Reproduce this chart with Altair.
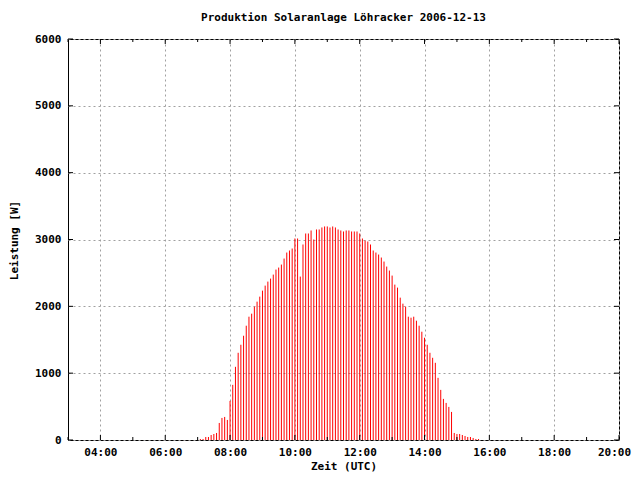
import altair as alt
import pandas as pd

# 5-minute samples from 07:05 to 15:40 (UTC)
power = [
    15, 15, 45, 45, 75, 90, 105, 255, 330, 345, 300, 585, 825, 1095, 1305,
    1425, 1560, 1710, 1845, 1890, 1995, 2070, 2145, 2235, 2310, 2370, 2415, 2475, 2550, 2580, 2625, 2715, 2805,
    2835, 2865, 3015, 3015, 2445, 2925, 3090, 3090, 3135, 3000, 3150, 3150, 3180, 3195, 3195, 3180, 3195,
    3180, 3150, 3135, 3120, 3135, 3135, 3120, 3120, 3120, 3090, 3015, 2985, 2970, 2925, 2835, 2805, 2775, 2730,
    2670, 2595, 2535, 2460, 2325, 2280, 2130, 2040, 1995, 1845, 1830, 1845, 1785, 1710, 1620, 1530, 1425, 1305,
    1230, 1155, 930, 750, 615, 555, 495, 420, 105, 90, 90, 75, 60, 45, 45, 30, 15, 15,
]
start_minute = 7 * 60 + 5
hours = [(start_minute + 5 * i) / 60 for i in range(len(power))]

x_major = [4, 6, 8, 10, 12, 14, 16, 18, 20]
x_minor = [3, 5, 7, 9, 11, 13, 15, 17, 19]
y_major = [0, 1000, 2000, 3000, 4000, 5000, 6000]
title_text = ["Produktion Solaranlage Löhracker 2006-12-13"]

W, H = 551, 401
FONT = "DejaVu Sans Mono"

df = pd.DataFrame({"t": hours, "p": power})
xs = alt.Scale(domain=[3, 20], nice=False, zero=False)
ys = alt.Scale(domain=[0, 6000], nice=False)

bars = alt.Chart(df).mark_rule(color="#ff0000", strokeWidth=1).encode(
    x=alt.X("t:Q", scale=xs, axis=alt.Axis(
        values=x_major,
        labelExpr="(datum.value < 10 ? '0' : '') + datum.value + ':00'",
        labelOffset={"condition": {"test": "datum.value == 20", "value": -5}, "value": 0},
        ticks=False, domain=False, grid=True, gridColor="#a0a0a0", gridDash=[2, 3],
        labelPadding=6, labelFlush=False, title="Zeit (UTC)", titleY=26, titleBaseline="middle")),
    y=alt.Y("p:Q", scale=ys, axis=alt.Axis(
        values=y_major, format="d", ticks=False, domain=False, grid=True,
        gridColor="#a0a0a0", gridDash=[2, 3],
        labelPadding=7, title="Leistung [W]", titleAngle=270, titleX=-54, titleY=201,
        titleAlign="center", titleBaseline="middle")),
    y2=alt.Y2(datum=0),
)

xmaj = pd.DataFrame({"t": x_major})
xmin = pd.DataFrame({"t": x_minor})
ymaj = pd.DataFrame({"p": y_major})

def xt(d, y1, y2):
    return alt.Chart(d).mark_rule(color="black", strokeWidth=1).encode(
        x=alt.X("t:Q", scale=xs), y=alt.value(y1), y2=alt.value(y2))

def yt(x1, x2):
    return alt.Chart(ymaj).mark_rule(color="black", strokeWidth=1).encode(
        y=alt.Y("p:Q", scale=ys), x=alt.value(x1), x2=alt.value(x2))

title = alt.Chart(pd.DataFrame({"title": title_text})).mark_text(
    font=FONT, fontSize=11, fontWeight="bold", color="black",
    align="center", baseline="middle",
).encode(text="title:N", x=alt.value(W / 2), y=alt.value(-21))

chart = alt.layer(
    bars,
    xt(xmaj, H, H - 5), xt(xmin, H, H - 3),
    xt(xmaj, 0, 5), xt(xmin, 0, 3),
    yt(0, 5), yt(W, W - 5),
    title,
).properties(
    width=W, height=H,
    autosize=alt.AutoSizeParams(type="none"),
    padding={"left": 60, "top": 31, "right": 13, "bottom": 32},
).configure_view(stroke="black", strokeWidth=1).configure_axis(
    labelFont=FONT, labelFontSize=11, labelFontWeight="bold", labelColor="black",
    titleFont=FONT, titleFontSize=11, titleFontWeight="bold", titleColor="black",
)

chart.save("out.html", embed_options={"renderer": "svg", "actions": False})
